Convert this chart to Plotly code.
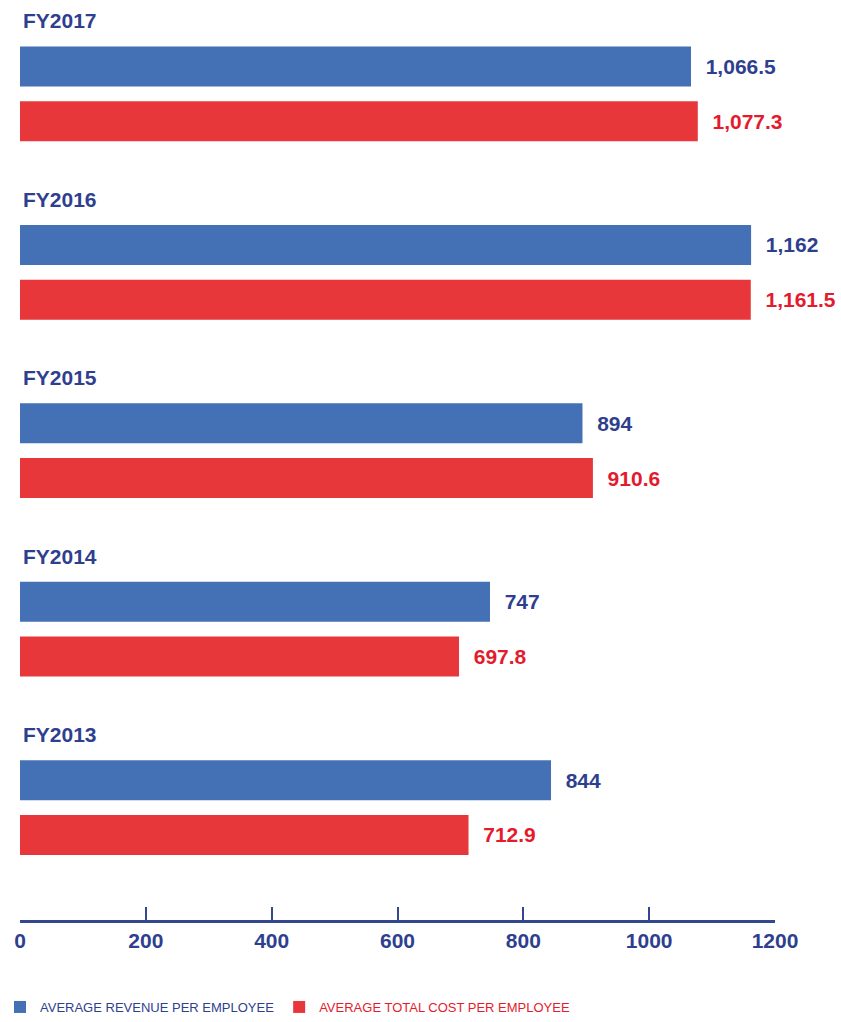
import plotly.graph_objects as go

# Fiscal years, listed bottom-to-top on the chart
years = ["FY2013", "FY2014", "FY2015", "FY2016", "FY2017"]
revenue_per_employee = [844, 747, 894, 1162, 1066.5]
cost_per_employee = [712.9, 697.8, 910.6, 1161.5, 1077.3]
x_ticks = [0, 200, 400, 600, 800, 1000, 1200]
x_tick_marks = [200, 400, 600, 800, 1000]

BLUE_BAR = "#4470b5"
RED_BAR = "#e8373b"
BLUE_TEXT = "#2f3f8f"
RED_TEXT = "#e41b2d"
AXIS_COL = "#34468f"
FONT = "Liberation Sans, Arial, sans-serif"
PAD = "\u00a0\u00a0"


def fmt(v):
    return f"{v:,.0f}" if float(v).is_integer() else f"{v:,.1f}"


fig = go.Figure()

# Red trace first so that, in each group, the blue bar sits above it
fig.add_trace(go.Bar(
    y=years, x=cost_per_employee, orientation="h",
    name=f"<span style='color:{RED_TEXT}'>AVERAGE TOTAL COST PER EMPLOYEE</span>",
    marker=dict(color=RED_BAR, line=dict(width=0)),
    text=[PAD + fmt(v) for v in cost_per_employee],
    textposition="outside", constraintext="none", cliponaxis=False,
    textfont=dict(family=FONT, size=21, color=RED_TEXT, weight="bold"),
    legendrank=2,
))
fig.add_trace(go.Bar(
    y=years, x=revenue_per_employee, orientation="h",
    name="AVERAGE REVENUE PER EMPLOYEE",
    marker=dict(color=BLUE_BAR, line=dict(width=0)),
    text=[PAD + fmt(v) for v in revenue_per_employee],
    textposition="outside", constraintext="none", cliponaxis=False,
    textfont=dict(family=FONT, size=21, color=BLUE_TEXT, weight="bold"),
    legendrank=1,
))

# Year headings above each pair of bars
for yr in years:
    fig.add_annotation(
        x=0, y=yr, xref="x", yref="y", text=yr, showarrow=False,
        xanchor="left", yanchor="middle", xshift=1, yshift=73,
        font=dict(family=FONT, size=21, color=BLUE_TEXT, weight="bold"),
    )

fig.update_layout(
    width=841, height=1022,
    margin=dict(l=20, r=66, t=10, b=102),
    paper_bgcolor="white", plot_bgcolor="white",
    barmode="group", bargap=0.386, bargroupgap=0.27,
    showlegend=True,
    legend=dict(
        orientation="h", xref="container", yref="container",
        x=0.0, y=0.0, xanchor="left", yanchor="bottom",
        font=dict(family=FONT, size=13, color=BLUE_TEXT),
        itemwidth=30, traceorder="normal",
    ),
    font=dict(family=FONT),
)

fig.update_xaxes(
    range=[0, 1200], tickvals=x_ticks, ticktext=[str(t) for t in x_ticks],
    ticks="", showgrid=False, zeroline=False,
    showline=True, linecolor=AXIS_COL, linewidth=3,
    tickfont=dict(family=FONT, size=21, color=BLUE_TEXT, weight="bold"),
    minor=dict(tickvals=x_tick_marks, ticks="inside", ticklen=13,
               tickwidth=2, tickcolor=AXIS_COL, showgrid=False),
)
fig.update_yaxes(
    categoryorder="array", categoryarray=years,
    range=[-0.63, 4.47], showticklabels=False, ticks="",
    showgrid=False, zeroline=False, showline=False,
)

fig.write_html("out.html")
